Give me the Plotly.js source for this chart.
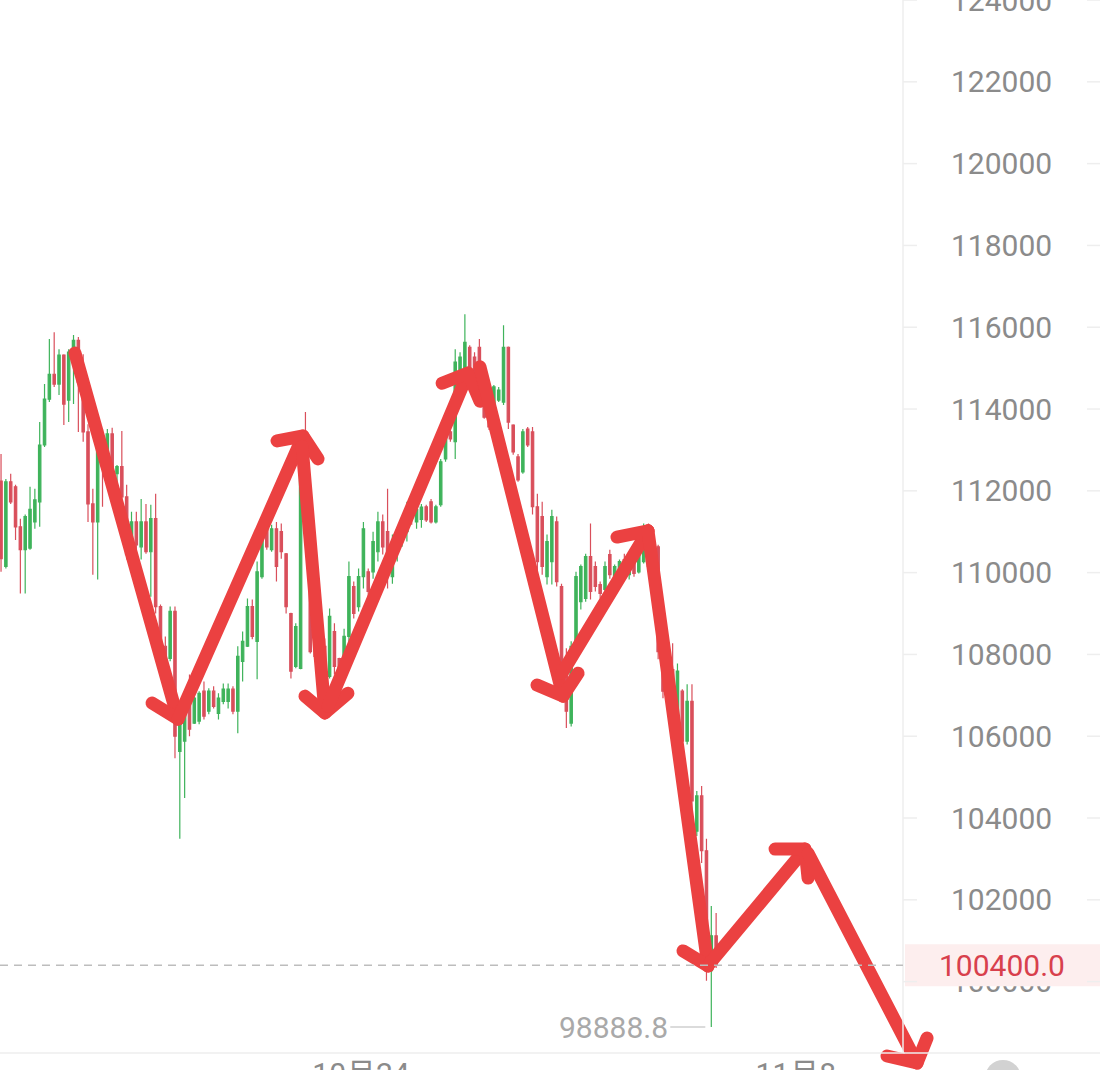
<!DOCTYPE html>
<html><head><meta charset="utf-8">
<script src="https://cdn.plot.ly/plotly-3.0.1.min.js"></script>
<style>
html,body{margin:0;padding:0;background:#fff;}
#chart{width:1100px;height:1070px;}
path.js-line{stroke-linecap:round !important;stroke-linejoin:round !important;}
</style></head><body><div id="chart"></div>
<script>
// ---------- DATA ----------
// 4-hour candles, first candle opens 2025-10-11 12:00
const firstCandleOpen = [2025, 9, 11, 12];
const candleHours = 4;
const openP = [112240,110150,112220,112100,111120,110560,110600,111240,111730,113120,
114240,114850,114610,115320,114220,115390,115680,114660,113440,111680,
111240,113070,112590,113390,112420,112590,111850,110510,111240,110630,
111240,110510,111320,109170,108200,107900,109050,105630,105880,106850,
106320,106370,107100,106610,107100,106560,106850,106850,107150,106610,
107830,108200,109170,108320,109900,111240,110560,111070,111000,110460,
109000,107710,107660,112710,111240,108560,107710,108200,107460,108560,
107900,107710,108440,109660,109170,109900,110020,110020,110510,111240,
111000,109900,110510,110760,111000,111610,111240,111300,111610,111730,
111240,111660,112780,113440,113200,114780,114900,115510,115270,115510,
114170,114170,113980,114220,114170,115510,113610,112830,112460,113510,
113440,111610,111370,109900,110270,111240,109660,107830,106320,108200,
109290,109370,110390,110150,109710,109590,110440,109880,110070,110320,
109950,110270,110020,110270,111070,109830,110630,108070,107100,107630,
106000,107100,105880,106850,103680,104540,103200,100270,101120];
const highP = [112900,112290,112420,112150,111320,111420,112100,112050,113680,114610,
115710,115880,115460,115340,115460,115810,115760,115340,113630,112050,
113200,113510,113510,113540,112630,113460,112150,111490,111490,111800,
111680,111660,111930,109220,108440,109170,109170,106610,106980,107510,
107020,107100,107340,107170,107220,107050,107290,107290,107220,108200,
108560,109370,109340,110270,111320,111610,111170,111240,111200,110480,
109020,108760,112950,113930,111320,108610,108320,108390,109120,108760,
107920,108630,110270,109780,110100,111240,110100,111000,111490,111420,
112050,110930,111070,111370,111730,111800,111660,111680,111660,111800,
111660,112780,113510,113930,115460,115390,116320,115560,115390,115710,
115020,114370,114590,114540,116050,115530,113630,112900,113510,113560,
113560,111930,111730,110930,111540,111370,109730,108150,108320,110020,
110200,110460,111200,110270,109780,110270,110560,110200,110320,110460,
110370,110370,110590,111200,111200,111000,110680,108320,107830,108270,
107780,107150,107270,107270,104660,104780,103490,101850,101680];
const lowP = [110020,110100,111680,110800,109490,109490,110560,111070,111120,113070,
114170,114540,114340,113610,113680,114120,113440,113200,111240,109950,
109830,111610,112460,112220,112050,111800,110320,110440,110510,110320,
110460,109410,109000,107510,107780,107830,105460,103490,104490,106000,
106300,106290,106410,106540,106680,106410,106780,106680,106540,106070,
107340,108180,108370,107390,109850,110560,110510,109780,110340,109000,
107410,107660,107640,111220,108020,107830,107590,107270,107410,107510,
107590,107590,108240,108880,109050,109610,109370,109850,110270,110440,
109610,109730,110270,110630,110760,111170,111070,111100,111240,111200,
111200,111610,112710,113200,112780,114660,114830,114900,114590,114170,
113760,113490,113930,114170,114100,113510,112880,112220,112420,113070,
111420,109000,109950,109710,109710,109660,107710,106200,106240,108070,
109100,109290,109340,109540,109370,109540,109850,109830,110020,109830,
109830,109900,109980,110220,110020,109710,107880,106930,107020,105800,
105800,105710,105800,104170,103560,102900,100020,98888.8,100330];
const closeP = [110340,112220,111730,111120,110560,111370,111550,111780,113120,114240,
114850,114610,115320,114120,115390,115680,114660,113440,111680,111240,
113070,112590,113390,112420,112590,111850,110440,111240,110680,111240,
110510,111320,109170,107830,107900,109050,106000,106320,106850,106170,
106930,107050,106490,107100,106730,106930,107150,107150,106610,107950,
108320,109170,108440,110020,111120,110630,111070,110150,110510,109170,
107590,108680,112710,111240,108070,107950,108200,107460,108930,107710,
107660,108440,109900,109000,109900,111070,109540,110760,111240,110630,
110020,110630,111000,111240,111610,111370,111540,111600,111290,111240,
111610,112710,113440,113270,115150,115270,115630,115020,114660,114850,
113800,113560,114540,114460,115510,113680,112950,112270,113440,113120,
111610,110270,110150,110760,111370,109780,107830,106610,108200,109900,
110150,110390,109540,109660,109490,110150,109950,110150,110270,109900,
110270,109980,110510,111070,110150,110760,108070,107100,107630,106000,
107590,105880,106850,104420,104540,103200,100390,101120,100400];
const yTickVals = [100000,102000,104000,106000,108000,110000,112000,114000,116000,118000,120000,122000,124000];
const xTickDates = ['2025-10-24 00:00:00','2025-11-08 00:00:00'];
const xTickText = ['10月24','11月8'];
const lastPrice = 100400.0;
const lowPrice = 98888.8;
const lowCandleIndex = 147;
// hand-drawn red arrows (time, price), null separates strokes
const arrowTimes = [
 '2025-10-14 03:12','2025-10-17 16:30',null,'2025-10-16 19:00','2025-10-17 16:30',null,
 '2025-10-17 16:30','2025-10-22 00:00',null,'2025-10-21 02:30','2025-10-22 00:00','2025-10-22 12:24',null,
 '2025-10-21 23:12','2025-10-22 18:12',null,'2025-10-22 01:36','2025-10-22 18:12','2025-10-23 13:12',null,
 '2025-10-22 20:42','2025-10-27 16:36',null,'2025-10-26 19:06','2025-10-27 16:36','2025-10-28 02:30',null,
 '2025-10-28 02:30','2025-10-30 23:12',null,'2025-10-30 01:42','2025-10-30 23:12','2025-10-31 11:42',null,
 '2025-10-30 22:24','2025-11-02 21:36',null,'2025-11-01 19:54','2025-11-02 21:36',null,
 '2025-11-02 21:36','2025-11-04 23:18',null,'2025-11-04 02:36','2025-11-04 23:18',null,
 '2025-11-05 00:54','2025-11-08 07:36',null,'2025-11-07 06:48','2025-11-08 07:36','2025-11-08 10:06',null,
 '2025-11-08 10:06','2025-11-12 04:18',null,'2025-11-11 03:30','2025-11-12 04:18','2025-11-12 12:36'];
const arrowPrices = [
 115370,106420,null,106810,106420,null,
 106420,113340,null,113220,113340,112780,null,
 113090,106570,null,106980,106570,107050,null,
 106740,114880,null,114630,114880,114190,null,
 115030,106980,null,107250,106980,107540,null,
 107540,111020,null,110870,111020,null,
 111020,100380,null,100750,100380,null,
 100450,103240,null,103240,103240,102530,null,
 103140,98010,null,98180,98010,98620];

// ---------- GEOMETRY ----------
const W = 1100, H = 1070, plotRight = 903, plotBottom = 1053;
const DAY = 86400000, HOUR = 3600000;
const anchorMs = Date.UTC(2025, 9, 24), anchorPx = 361, pxPerDay = 28.99;
const priceAnchor = 100000, priceAnchorPx = 981.6, pxPer1000 = 40.9;
function fmt(ms){const d=new Date(ms);const p=n=>String(n).padStart(2,'0');
 return d.getUTCFullYear()+'-'+p(d.getUTCMonth()+1)+'-'+p(d.getUTCDate())+' '+p(d.getUTCHours())+':'+p(d.getUTCMinutes())+':'+p(d.getUTCSeconds());}
const tAt = px => fmt(anchorMs + (px - anchorPx) / pxPerDay * DAY);
const pAt = px => priceAnchor + (priceAnchorPx - px) / pxPer1000 * 1000;

const startMs = Date.UTC(firstCandleOpen[0], firstCandleOpen[1], firstCandleOpen[2], firstCandleOpen[3]);
const times = openP.map((_, i) => fmt(startMs + i * candleHours * HOUR + candleHours * HOUR / 2));

const FONT = 'Roboto, "Noto Sans CJK SC", sans-serif';
const GRID = '#eeeeee';

const candles = {
 type: 'candlestick', x: times, open: openP, high: highP, low: lowP, close: closeP,
 xaxis: 'x', yaxis: 'y',
 increasing: {line: {color: '#3fb35b', width: 1.2}, fillcolor: '#3fb35b'},
 decreasing: {line: {color: '#d94f5b', width: 1.2}, fillcolor: '#d94f5b'},
 whiskerwidth: 0, hoverinfo: 'none', showlegend: false
};
const arrows = {
 type: 'scatter', mode: 'lines', x: arrowTimes, y: arrowPrices, connectgaps: false,
 xaxis: 'x2', yaxis: 'y2', line: {color: '#eb4141', width: 13},
 hoverinfo: 'skip', showlegend: false
};

const shapes = [
 {type:'line', xref:'paper', yref:'paper', x0: plotRight/W, x1: plotRight/W, y0: 1 - plotBottom/H, y1: 1, line:{color: GRID, width: 1.5}},
 {type:'line', xref:'paper', yref:'paper', x0: 0, x1: 1, y0: 1 - plotBottom/H, y1: 1 - plotBottom/H, line:{color: GRID, width: 1.5}},
 {type:'line', xref:'paper', yref:'y', x0: 0, x1: plotRight/W, y0: lastPrice, y1: lastPrice, line:{color:'#bdbdbd', width:1.5, dash:'8px,6px'}},
 {type:'rect', xref:'paper', yref:'y', ysizemode:'pixel', yanchor: lastPrice, y0: -21, y1: 21, x0: 905/W, x1: 1, fillcolor:'#fdeeee', line:{width:0}, layer:'above'},
 {type:'circle', xref:'paper', yref:'paper', x0: 985/W, x1: 1021/W, y0: 1 - 1096/H, y1: 1 - 1060/H, fillcolor:'#d2d2d2', line:{width:0}}
];
yTickVals.forEach(v => {
 shapes.push({type:'line', xref:'paper', yref:'y', x0: plotRight/W, x1: 917/W, y0: v, y1: v, line:{color: GRID, width: 1.5}});
 shapes.push({type:'line', xref:'paper', yref:'y', x0: 1087/W, x1: 1, y0: v, y1: v, line:{color: GRID, width: 1.5}});
});

const annotations = [
 {xref:'paper', yref:'y', x: 1002/W, y: lastPrice, text: lastPrice.toFixed(1), showarrow:false,
  xanchor:'center', yanchor:'middle', font:{family: FONT, size: 30, color:'#d8404c'}},
 {xref:'x', yref:'y', x: times[lowCandleIndex], y: lowPrice, text: String(lowPrice), showarrow:true,
  arrowhead:0, arrowwidth:1.5, arrowcolor:'#cfcfcf', ax:-41, ay:0, standoff:6,
  xanchor:'right', yanchor:'middle', font:{family: FONT, size: 30, color:'#a9a9a9'}}
];

const layout = {
 width: W, height: H, margin: {l:0, r:0, t:0, b:0},
 paper_bgcolor: '#ffffff', plot_bgcolor: 'rgba(0,0,0,0)',
 font: {family: FONT, color: '#8b8b8b'}, showlegend: false,
 xaxis: {type:'date', domain:[0, plotRight/W], range:[tAt(0), tAt(plotRight)], anchor:'y',
  tickvals: xTickDates, ticktext: xTickText, ticks:'', showgrid:false, zeroline:false, showline:false,
  ticklabeloverflow:'allow',
  tickfont:{family: FONT, size:30, color:'#8b8b8b'}, rangeslider:{visible:false}, fixedrange:true},
 yaxis: {domain:[1 - plotBottom/H, 1], range:[pAt(plotBottom), pAt(0) + 1], anchor:'x', side:'right',
  tickvals: yTickVals, ticktext: yTickVals.map(String), ticks:'', showgrid:false, zeroline:false, showline:false,
  ticklabeloverflow:'allow',
  ticklabelstandoff: 47, tickfont:{family: FONT, size:30, color:'#8b8b8b'}, fixedrange:true},
 xaxis2: {type:'date', domain:[0,1], range:[tAt(0), tAt(W)], anchor:'y2', visible:false, fixedrange:true},
 yaxis2: {domain:[0,1], range:[pAt(H), pAt(0)], anchor:'x2', visible:false, fixedrange:true},
 shapes: shapes, annotations: annotations
};

Plotly.newPlot('chart', [candles, arrows], layout, {displayModeBar:false, staticPlot:true});
</script></body></html>
